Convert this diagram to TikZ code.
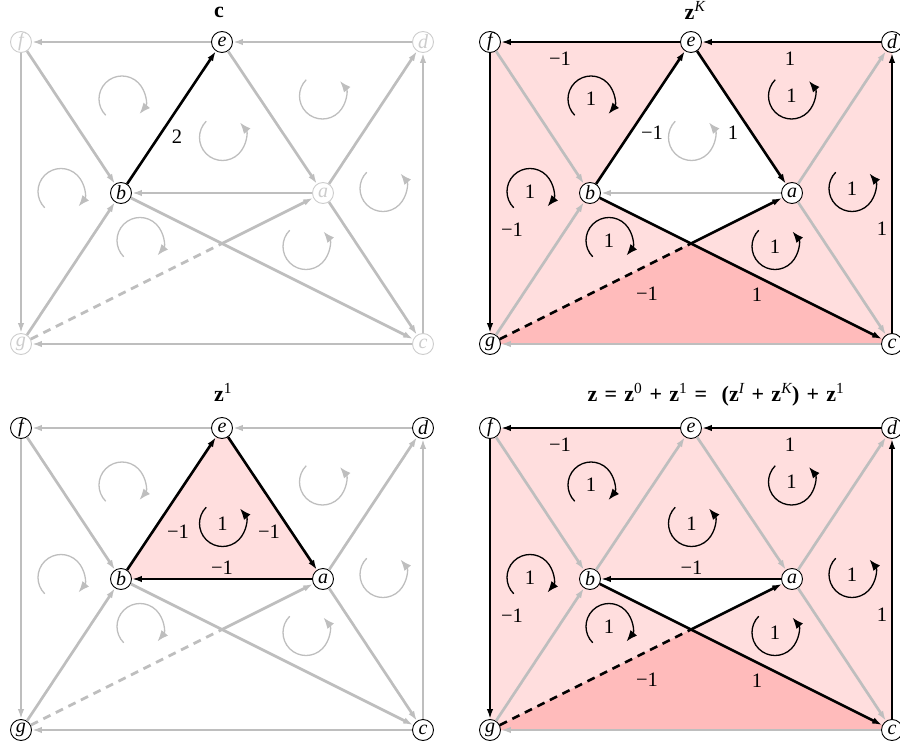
\documentclass[tikz,border=0pt]{standalone}
\usepackage{fontspec}
\setmainfont{Liberation Serif}
\usetikzlibrary{arrows.meta,backgrounds}
\definecolor{egray}{RGB}{190,190,190}
\definecolor{ngray}{RGB}{205,205,205}
\definecolor{pinkA}{RGB}{255,222,222}
\definecolor{pinkB}{RGB}{255,187,187}
\tikzset{
 vtx/.style={circle,draw=black,fill=white,line width=0.9pt,minimum size=21pt,inner sep=0pt,font=\fontsize{20}{20}\selectfont\itshape},
 fadev/.style={draw=ngray,text=ngray},
 gedge/.style={draw=egray,line width=2.7pt,-{Latex[length=10pt,width=6.5pt]}},
 bedge/.style={draw=black,line width=2.6pt,-{Latex[length=10pt,width=6.5pt]}},
 gdash/.style={draw=egray,line width=2.7pt,dash pattern=on 8pt off 6pt},
 bdash/.style={draw=black,line width=2.6pt,dash pattern=on 8pt off 6pt},
 garc/.style={draw=egray,line width=1.3pt,-{Latex[length=11pt,width=8.5pt]}},
 barc/.style={draw=black,line width=1.3pt,-{Latex[length=11pt,width=8.5pt]}},
 lbl/.style={font=\fontsize{20.5}{20.5}\selectfont,inner sep=0pt},
 ttl/.style={font=\fontsize{22}{22}\selectfont\bfseries,anchor=base,inner sep=0pt},
}
\newcommand\tsp{\hspace{0.33em}}
\newcommand\cwarc[2]{\draw[#2] (#1) ++(225:23pt) arc[start angle=225,end angle=-40,radius=23pt];}
\newcommand\ccwarc[2]{\draw[#2] (#1) ++(135:23pt) arc[start angle=135,end angle=400,radius=23pt];}
\newcommand\vertices[2]{%
 \node[vtx,#2] (f#1) at (0,0) {f};
 \node[vtx] (e#1) at (201,0) {e};
 \node[vtx,#2] (d#1) at (402,0) {d};
 \node[vtx] (b#1) at (100,151) {b};
 \node[vtx,#2] (a#1) at (302,151) {a};
 \node[vtx,#2] (g#1) at (0,302) {g};
 \node[vtx,#2] (c#1) at (402,302) {c};
 \coordinate (x#1) at (201,201.5);
 \coordinate (ul#1) at (101,57);
 \coordinate (mc#1) at (201.5,95.5);
 \coordinate (ur#1) at (301.5,54);
 \coordinate (ml#1) at (40,149.5);
 \coordinate (mr#1) at (362,146.5);
 \coordinate (ll#1) at (119,198.5);
 \coordinate (lr#1) at (285,204.5);
}
\begin{document}
\begin{tikzpicture}[x=1pt,y=-1pt]
\useasboundingbox (0,0) rectangle (900,746);
\clip (0,0) rectangle (900,746);

% ---------------- panel 1 : c
\begin{scope}[shift={(21,42)}]
\vertices{1}{fadev}
\node[ttl] (t1) at (198,-24) {c};
\cwarc{ul1}{garc} \ccwarc{mc1}{garc} \ccwarc{ur1}{garc}
\cwarc{ml1}{garc} \ccwarc{mr1}{garc} \cwarc{ll1}{garc} \ccwarc{lr1}{garc}
\draw[gedge] (d1) -- (e1);
\draw[gedge] (e1) -- (f1);
\draw[gedge] (f1) -- (g1);
\draw[gedge] (c1) -- (g1);
\draw[gedge] (c1) -- (d1);
\draw[gedge] (f1) -- (b1);
\draw[gedge] (g1) -- (b1);
\draw[gedge] (e1) -- (a1);
\draw[gedge] (a1) -- (d1);
\draw[gedge] (a1) -- (b1);
\draw[gedge] (a1) -- (c1);
\draw[gedge] (b1) -- (c1);
\draw[gdash] (g1) -- (x1);
\draw[gedge] (x1) -- (a1);
\draw[bedge] (b1) -- (e1);
\node[lbl] (l1a) at (156,95) {2};
\end{scope}

% ---------------- panel 2 : zK
\begin{scope}[shift={(490,42)}]
\vertices{2}{}
\begin{pgfonlayer}{background}
\fill[pinkA,even odd rule] (f2.center) -- (d2.center) -- (c2.center) -- (g2.center) -- cycle
  (b2.center) -- (e2.center) -- (a2.center) -- (x2) -- cycle;
\fill[pinkB] (g2.center) -- (x2) -- (c2.center) -- cycle;
\end{pgfonlayer}
\node[ttl] (t2) at (205,-22.5) {z\textsuperscript{\normalfont\itshape K}};
\cwarc{ul2}{barc} \ccwarc{mc2}{garc} \ccwarc{ur2}{barc}
\cwarc{ml2}{barc} \ccwarc{mr2}{barc} \cwarc{ll2}{barc} \ccwarc{lr2}{barc}
\foreach \p in {ul2,ur2,ml2,mr2,ll2,lr2} {\node[lbl] at (\p) {1};}
\draw[gedge] (f2) -- (b2);
\draw[gedge] (g2) -- (b2);
\draw[gedge] (a2) -- (b2);
\draw[gedge] (a2) -- (d2);
\draw[gedge] (a2) -- (c2);
\draw[gedge] (c2) -- (g2);
\draw[bedge] (d2) -- (e2);
\draw[bedge] (e2) -- (f2);
\draw[bedge] (f2) -- (g2);
\draw[bedge] (c2) -- (d2);
\draw[bedge] (b2) -- (e2);
\draw[bedge] (e2) -- (a2);
\draw[bedge] (b2) -- (c2);
\draw[bdash] (g2) -- (x2);
\draw[bedge] (x2) -- (a2);
\node[lbl] (l2a) at (70,16.5) {−1};
\node[lbl] (l2b) at (300,17) {1};
\node[lbl] (l2c) at (22,188) {−1};
\node[lbl] (l2d) at (392,187) {1};
\node[lbl] (l2e) at (162,91) {−1};
\node[lbl] (l2f) at (243,91) {1};
\node[lbl] (l2g) at (157,252) {−1};
\node[lbl] (l2h) at (267,253) {1};
\end{scope}

% ---------------- panel 3 : z1
\begin{scope}[shift={(21,428)}]
\vertices{3}{}
\begin{pgfonlayer}{background}
\fill[pinkA] (b3.center) -- (e3.center) -- (a3.center) -- cycle;
\end{pgfonlayer}
\node[ttl] (t3) at (202,-26.5) {z\textsuperscript{\normalfont 1}};
\cwarc{ul3}{garc} \ccwarc{mc3}{barc} \ccwarc{ur3}{garc}
\cwarc{ml3}{garc} \ccwarc{mr3}{garc} \cwarc{ll3}{garc} \ccwarc{lr3}{garc}
\node[lbl] at (mc3) {1};
\draw[gedge] (d3) -- (e3);
\draw[gedge] (e3) -- (f3);
\draw[gedge] (f3) -- (g3);
\draw[gedge] (c3) -- (g3);
\draw[gedge] (c3) -- (d3);
\draw[gedge] (f3) -- (b3);
\draw[gedge] (g3) -- (b3);
\draw[gedge] (a3) -- (d3);
\draw[gedge] (a3) -- (c3);
\draw[gedge] (b3) -- (c3);
\draw[gdash] (g3) -- (x3);
\draw[gedge] (x3) -- (a3);
\draw[bedge] (b3) -- (e3);
\draw[bedge] (e3) -- (a3);
\draw[bedge] (a3) -- (b3);
\node[lbl] (l3a) at (157,104) {−1};
\node[lbl] (l3b) at (248,104) {−1};
\node[lbl] (l3c) at (201,140) {−1};
\end{scope}

% ---------------- panel 4 : z
\begin{scope}[shift={(490,428)}]
\vertices{4}{}
\begin{pgfonlayer}{background}
\fill[pinkA,even odd rule] (f4.center) -- (d4.center) -- (c4.center) -- (g4.center) -- cycle
  (b4.center) -- (a4.center) -- (x4) -- cycle;
\fill[pinkB] (g4.center) -- (x4) -- (c4.center) -- cycle;
\end{pgfonlayer}
\node[ttl] (t4) at (226,-26.5) {z\tsp=\tsp z\textsuperscript{\normalfont 0}\tsp+\tsp z\textsuperscript{\normalfont 1}\tsp=\tsp\tsp(z\textsuperscript{\normalfont\itshape I}\tsp+\tsp z\textsuperscript{\normalfont\itshape K})\tsp+\tsp z\textsuperscript{\normalfont 1}};
\cwarc{ul4}{barc} \ccwarc{mc4}{barc} \ccwarc{ur4}{barc}
\cwarc{ml4}{barc} \ccwarc{mr4}{barc} \cwarc{ll4}{barc} \ccwarc{lr4}{barc}
\foreach \p in {ul4,mc4,ur4,ml4,mr4,ll4,lr4} {\node[lbl] at (\p) {1};}
\draw[gedge] (f4) -- (b4);
\draw[gedge] (g4) -- (b4);
\draw[gedge] (b4) -- (e4);
\draw[gedge] (e4) -- (a4);
\draw[gedge] (a4) -- (d4);
\draw[gedge] (a4) -- (c4);
\draw[gedge] (c4) -- (g4);
\draw[bedge] (d4) -- (e4);
\draw[bedge] (e4) -- (f4);
\draw[bedge] (f4) -- (g4);
\draw[bedge] (c4) -- (d4);
\draw[bedge] (a4) -- (b4);
\draw[bedge] (b4) -- (c4);
\draw[bdash] (g4) -- (x4);
\draw[bedge] (x4) -- (a4);
\node[lbl] (l4a) at (70,16.5) {−1};
\node[lbl] (l4b) at (300,17) {1};
\node[lbl] (l4c) at (22,188) {−1};
\node[lbl] (l4d) at (392,187) {1};
\node[lbl] (l4e) at (201.5,140) {−1};
\node[lbl] (l4g) at (157,252) {−1};
\node[lbl] (l4h) at (267,253) {1};
\end{scope}
\end{tikzpicture}
\end{document}
